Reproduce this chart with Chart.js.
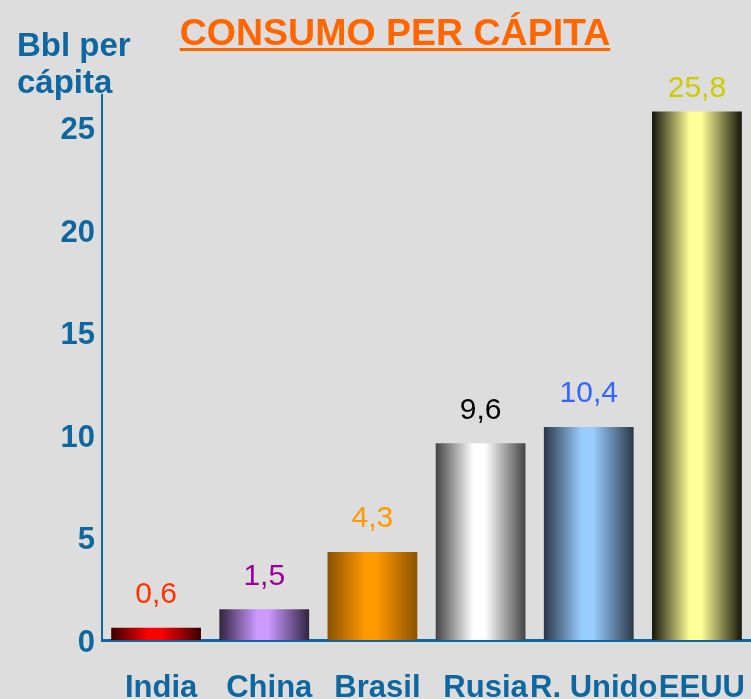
<!DOCTYPE html>
<html>
<head>
<meta charset="utf-8">
<script src="https://cdn.jsdelivr.net/npm/chart.js@4/dist/chart.umd.min.js"></script>
<style>
  html, body { margin: 0; padding: 0; background: #dddddd; }
  #wrap { position: relative; width: 751px; height: 699px; }
</style>
</head>
<body>
<div id="wrap"><canvas id="chart" width="751" height="699"></canvas></div>
<script>
// Data
const countries = ['India', 'China', 'Brasil', 'Rusia', 'R. Unido', 'EEUU'];
const consumo = [0.6, 1.5, 4.3, 9.6, 10.4, 25.8];
const valueLabels = ['0,6', '1,5', '4,3', '9,6', '10,4', '25,8'];
const labelColors = ['#ff3300', '#990099', '#ff9900', '#000000', '#3366ff', '#cccc00'];
const edgeColors = ['#3a0000', '#30243f', '#8a5200', '#444444', '#2a3848', '#14140a'];
const midColors = ['#ff0000', '#cc99ff', '#ff9900', '#ffffff', '#99ccff', '#ffff99'];

const AXIS_BLUE = '#0f67a0';

// gradient per bar, across the bar width
function barGradient(context) {
    const chart = context.chart;
    const i = context.dataIndex;
    const xs = chart.scales.x;
    if (!chart.chartArea || !xs || i === undefined) return midColors[i] || '#999';
    const cx = xs.getPixelForValue(i);
    const w = xs.width / countries.length * 0.83;
    const g = chart.ctx.createLinearGradient(cx - w / 2, 0, cx + w / 2, 0);
    g.addColorStop(0, edgeColors[i]);
    g.addColorStop(0.42, midColors[i]);
    g.addColorStop(0.55, midColors[i]);
    g.addColorStop(1, edgeColors[i]);
    return g;
}

// title, axis caption and value labels
const decorations = {
    id: 'decorations',
    afterDatasetsDraw(chart) {
        const ctx = chart.ctx;
        ctx.save();
        // title
        ctx.font = 'bold 37.5px "Liberation Sans", Arial, sans-serif';
        ctx.fillStyle = '#ff6600';
        ctx.textAlign = 'left';
        ctx.textBaseline = 'alphabetic';
        const title = 'CONSUMO PER CÁPITA';
        const tw = ctx.measureText(title).width;
        const tx = 395 - tw / 2;
        ctx.fillText(title, tx, 45);
        ctx.fillRect(tx, 48, tw, 3);

        // y axis caption
        ctx.font = 'bold 33px "Liberation Sans", Arial, sans-serif';
        ctx.fillStyle = AXIS_BLUE;
        ctx.fillText('Bbl per', 17, 56);
        ctx.fillText('cápita', 17, 93);

        // value labels above the bars
        ctx.font = '30px "Liberation Sans", Arial, sans-serif';
        ctx.textAlign = 'center';
        ctx.textBaseline = 'middle';
        const meta = chart.getDatasetMeta(0);
        meta.data.forEach((bar, i) => {
            ctx.fillStyle = labelColors[i];
            const off = i === countries.length - 1 ? 23 : 33;
            ctx.fillText(valueLabels[i], bar.x, bar.y - off);
        });
        ctx.restore();
    }
};

new Chart(document.getElementById('chart'), {
    type: 'bar',
    data: {
        labels: countries,
        datasets: [{
            data: consumo,
            backgroundColor: barGradient,
            borderWidth: 0,
            barPercentage: 0.83,
            categoryPercentage: 1
        }]
    },
    options: {
        responsive: false,
        animation: false,
        layout: { padding: { top: 95, left: 0, right: 0, bottom: 0 } },
        plugins: {
            legend: { display: false },
            tooltip: { enabled: false }
        },
        scales: {
            x: {
                grid: { display: false, drawTicks: false },
                border: { display: true, color: AXIS_BLUE, width: 3 },
                ticks: {
                    autoSkip: false,
                    maxRotation: 0,
                    minRotation: 0,
                    padding: 30,
                    labelOffset: 5,
                    color: AXIS_BLUE,
                    font: { family: '"Liberation Sans", Arial, sans-serif', size: 31, weight: 'bold' }
                },
                afterFit(scale) {
                    scale.height = 59;
                    scale.paddingLeft = 0;
                    scale.paddingRight = 0;
                }
            },
            y: {
                min: 0,
                max: 26.6,
                grid: { display: false, drawTicks: false },
                border: { display: true, color: AXIS_BLUE, width: 2 },
                ticks: {
                    stepSize: 5,
                    includeBounds: false,
                    padding: 7,
                    labelOffset: 3,
                    color: AXIS_BLUE,
                    font: { family: '"Liberation Sans", Arial, sans-serif', size: 31, weight: 'bold' }
                },
                afterFit(scale) {
                    scale.width = 102;
                    scale.paddingTop = 0;
                    scale.paddingBottom = 0;
                }
            }
        }
    },
    plugins: [decorations]
});
</script>
</body>
</html>
